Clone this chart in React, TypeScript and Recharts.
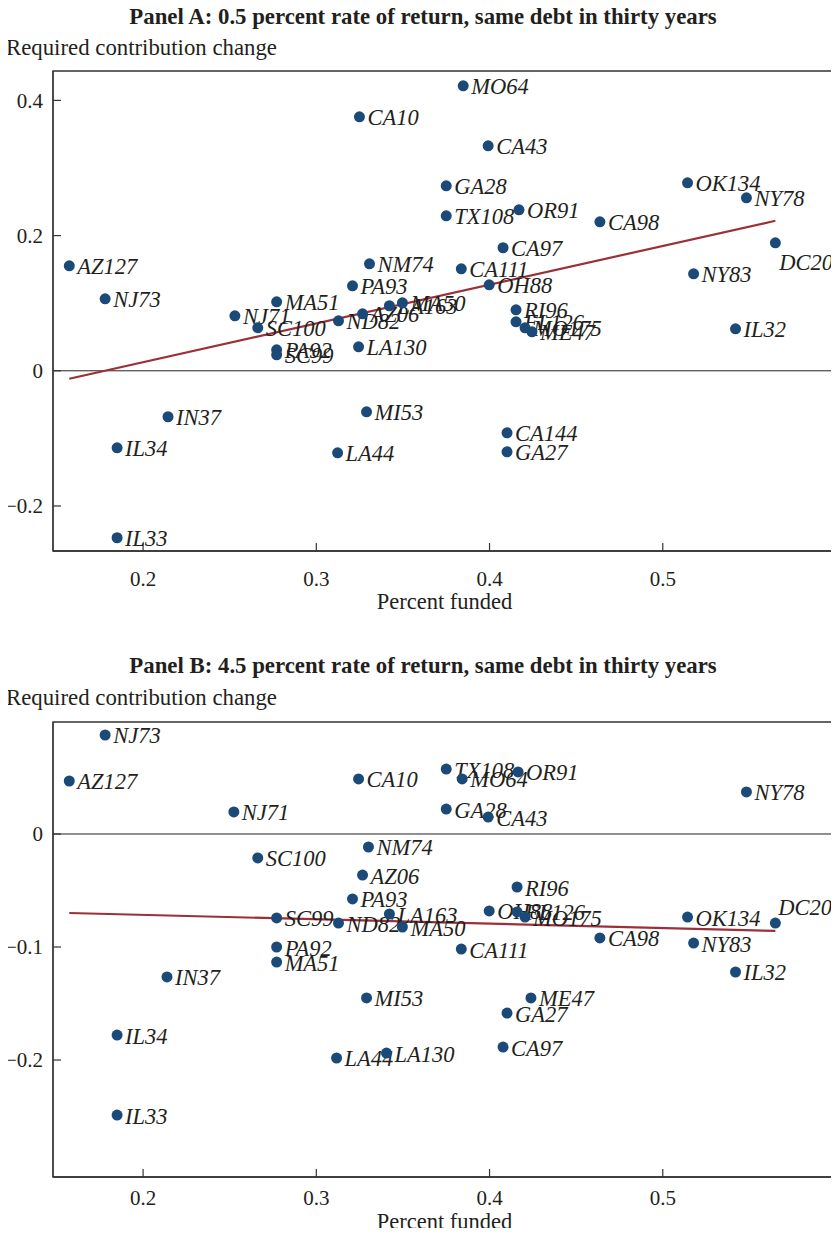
import React from 'react';
import { ScatterChart, Scatter, XAxis, YAxis, ReferenceLine, ReferenceArea } from 'recharts';

// ---------- Panel A data ----------
const labelsA = ['MO64','CA10','CA43','GA28','TX108','OR91','CA98','OK134','NY78','DC20','NY83','IL32','AZ127','NJ73','NM74','CA97','CA111','OH88','PA93','MA51','NJ71','SC100','ND82','AZ06','LA163','MA50','PA92','SC99','LA130','RI96','FL126','MO175','ME47','IN37','IL34','IL33','MI53','LA44','CA144','GA27'];
const fundedA = [0.3848,0.3249,0.3992,0.3750,0.3750,0.4170,0.4637,0.5143,0.5483,0.5650,0.5178,0.5420,0.1574,0.1781,0.3307,0.4078,0.3837,0.3998,0.3209,0.2771,0.2530,0.2662,0.3128,0.3267,0.3422,0.3497,0.2771,0.2771,0.3244,0.4153,0.4153,0.4205,0.4245,0.2144,0.1850,0.1850,0.3290,0.3123,0.4101,0.4101];
const changeA = [0.4216,0.3757,0.3328,0.2737,0.2293,0.2382,0.2204,0.2781,0.2559,0.1893,0.1435,0.0621,0.1553,0.1065,0.1583,0.1820,0.1509,0.1272,0.1257,0.1021,0.0814,0.0636,0.0740,0.0843,0.0962,0.1006,0.0311,0.0237,0.0355,0.0902,0.0725,0.0636,0.0577,-0.0680,-0.1139,-0.2470,-0.0607,-0.1213,-0.0917,-0.1198];
const trendXA = [0.1574, 0.565];
const trendYA = [-0.0118, 0.2219];

// ---------- Panel B data ----------
const labelsB = ['NJ73','AZ127','NJ71','CA10','TX108','MO64','OR91','GA28','CA43','NY78','SC100','NM74','AZ06','RI96','PA93','DC20','SC99','ND82','LA163','MA50','OH88','FL126','MO175','OK134','CA98','NY83','IL32','PA92','MA51','CA111','IN37','MI53','ME47','GA27','IL34','CA97','LA44','LA130','IL33'];
const fundedB = [0.1781,0.1574,0.2524,0.3244,0.3750,0.3842,0.4165,0.3750,0.3992,0.5483,0.2662,0.3301,0.3267,0.4159,0.3209,0.5650,0.2771,0.3128,0.3422,0.3497,0.3998,0.4159,0.4205,0.5143,0.4637,0.5178,0.5420,0.2771,0.2771,0.3837,0.2138,0.3290,0.4239,0.4101,0.1850,0.4078,0.3117,0.3405,0.1850];
const changeB = [0.0876,0.0469,0.0195,0.0487,0.0575,0.0487,0.0549,0.0221,0.0150,0.0372,-0.0212,-0.0115,-0.0363,-0.0469,-0.0575,-0.0788,-0.0743,-0.0788,-0.0708,-0.0823,-0.0681,-0.0690,-0.0735,-0.0735,-0.0920,-0.0965,-0.1221,-0.1000,-0.1133,-0.1018,-0.1265,-0.1451,-0.1451,-0.1584,-0.1779,-0.1885,-0.1982,-0.1938,-0.2487];
const trendXB = [0.1574, 0.565];
const trendYB = [-0.0699, -0.0858];

// ---------- ticks / labels ----------
const xTicks = [0.2, 0.3, 0.4, 0.5];
const yTicksA = [-0.2, 0, 0.2, 0.4];
const yTicksB = [-0.2, -0.1, 0];
const titleA = 'Panel A: 0.5 percent rate of return, same debt in thirty years';
const titleB = 'Panel B: 4.5 percent rate of return, same debt in thirty years';
const yTitle = 'Required contribution change';
const xTitle = 'Percent funded';

// label position exceptions (styling)
const offsetsA: Record<string, [number, number]> = { DC20: [4, 20] };
const offsetsB: Record<string, [number, number]> = { DC20: [3, -16] };

const FONT = '"Liberation Serif", "Times New Roman", serif';
const TEXT = '#231f20';
const DOT = '#1b4a78';
const TREND = '#9b3038';
const AXIS = '#333333';

const fmt = (v: number) => (v < 0 ? '\u2212' + String(Math.abs(v)) : String(v));

const makeShape = (offsets: Record<string, [number, number]>) => (props: any) => {
  const { cx, cy, payload } = props;
  const off = offsets[payload.name] || [8, 1];
  return (
    <g>
      <circle cx={cx} cy={cy} r={5.5} fill={DOT} />
      <text
        x={cx + off[0]}
        y={cy + off[1]}
        fontSize={22.5}
        fontStyle="italic"
        fontFamily={FONT}
        fill={TEXT}
        dominantBaseline="central"
      >
        {payload.name}
      </text>
    </g>
  );
};

type PanelProps = {
  labels: string[];
  funded: number[];
  change: number[];
  trendX: number[];
  trendY: number[];
  yTicks: number[];
  yDomain: [number, number];
  offsets: Record<string, [number, number]>;
  height: number;
  marginTop: number;
  marginBottom: number;
  xTickMargin: number;
  xLabelOffset: number;
};

function Panel(p: PanelProps) {
  const data = p.labels.map((name, i) => ({ name, x: p.funded[i], y: p.change[i] }));
  const xDomain: [number, number] = [0.148, 0.6];
  return (
    <ScatterChart
      width={839}
      height={p.height}
      margin={{ top: p.marginTop, right: 3, bottom: p.marginBottom, left: 0 }}
    >
      <XAxis
        type="number"
        dataKey="x"
        domain={xDomain}
        ticks={xTicks}
        tickFormatter={fmt}
        allowDataOverflow
        height={60}
        tickSize={-8}
        tickMargin={p.xTickMargin}
        axisLine={{ stroke: AXIS, strokeWidth: 1.3 }}
        tickLine={{ stroke: AXIS, strokeWidth: 1.2 }}
        tick={{ fontSize: 21, fontFamily: FONT, fill: TEXT }}
        label={{ value: xTitle, position: 'insideBottom', offset: p.xLabelOffset, fontSize: 22.5, fontFamily: FONT, fill: TEXT }}
      />
      <YAxis
        type="number"
        dataKey="y"
        domain={p.yDomain}
        ticks={p.yTicks}
        tickFormatter={fmt}
        allowDataOverflow
        width={53}
        tickSize={-8}
        tickMargin={18}
        axisLine={{ stroke: AXIS, strokeWidth: 1.3 }}
        tickLine={{ stroke: AXIS, strokeWidth: 1.2 }}
        tick={{ fontSize: 21, fontFamily: FONT, fill: TEXT }}
      />
      <ReferenceArea
        x1={xDomain[0]}
        x2={xDomain[1]}
        y1={p.yDomain[0]}
        y2={p.yDomain[1]}
        fill="none"
        fillOpacity={0}
        stroke={AXIS}
        strokeWidth={1.3}
        ifOverflow="visible"
      />
      <ReferenceLine y={0} stroke="#222" strokeWidth={1} />
      <ReferenceLine
        segment={[{ x: p.trendX[0], y: p.trendY[0] }, { x: p.trendX[1], y: p.trendY[1] }]}
        stroke={TREND}
        strokeWidth={2.2}
        ifOverflow="visible"
      />
      <Scatter data={data} shape={makeShape(p.offsets)} isAnimationActive={false} />
    </ScatterChart>
  );
}

const titleStyle: React.CSSProperties = {
  position: 'absolute',
  left: 0,
  width: 846,
  textAlign: 'center',
  fontFamily: FONT,
  fontWeight: 'bold',
  fontSize: 22.8,
  lineHeight: '22px',
  color: TEXT,
  whiteSpace: 'nowrap',
};
const yTitleStyle: React.CSSProperties = {
  position: 'absolute',
  left: 6,
  fontFamily: FONT,
  fontSize: 22.8,
  lineHeight: '22px',
  color: TEXT,
  whiteSpace: 'nowrap',
};

export default function App() {
  return (
    <div style={{ position: 'relative', margin: -8, width: 839, height: 1236, background: '#fff', overflow: 'hidden' }}>
      <div style={{ ...titleStyle, top: 6 }}>{titleA}</div>
      <div style={{ ...yTitleStyle, top: 37 }}>{yTitle}</div>
      <div style={{ position: 'absolute', top: 0, left: 0 }}>
        <Panel
          labels={labelsA}
          funded={fundedA}
          change={changeA}
          trendX={trendXA}
          trendY={trendYA}
          yTicks={yTicksA}
          yDomain={[-0.2666, 0.4435]}
          offsets={offsetsA}
          height={620}
          marginTop={71}
          marginBottom={9}
          xTickMargin={28}
          xLabelOffset={2}
        />
      </div>
      <div style={{ ...titleStyle, top: 655 }}>{titleB}</div>
      <div style={{ ...yTitleStyle, top: 687 }}>{yTitle}</div>
      <div style={{ position: 'absolute', top: 650, left: 0 }}>
        <Panel
          labels={labelsB}
          funded={fundedB}
          change={changeB}
          trendX={trendXB}
          trendY={trendYB}
          yTicks={yTicksB}
          yDomain={[-0.3035, 0.0991]}
          offsets={offsetsB}
          height={600}
          marginTop={72}
          marginBottom={13}
          xTickMargin={21}
          xLabelOffset={8}
        />
      </div>
    </div>
  );
}
